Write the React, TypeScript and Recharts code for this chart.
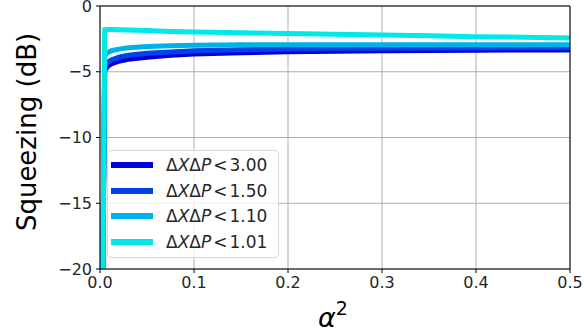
import React from 'react';
import {
  CartesianGrid,
  Label,
  Line,
  LineChart,
  ReferenceLine,
  XAxis,
  YAxis,
} from 'recharts';

const alphaSq = [0.003, 0.005, 0.008, 0.012, 0.02, 0.03, 0.05, 0.075, 0.1, 0.15, 0.2, 0.25, 0.3, 0.35, 0.4, 0.45, 0.5];
const sq300 = [-20, -4.9, -4.6, -4.4, -4.2, -4.05, -3.9, -3.75, -3.65, -3.55, -3.48, -3.44, -3.4, -3.38, -3.36, -3.35, -3.34];
const sq150 = [-20, -4.6, -4.3, -4.1, -3.9, -3.75, -3.6, -3.5, -3.4, -3.32, -3.27, -3.24, -3.22, -3.2, -3.19, -3.18, -3.17];
const sq110 = [-20, -3.8, -3.55, -3.4, -3.28, -3.18, -3.08, -3.02, -2.98, -2.95, -2.94, -2.94, -2.94, -2.94, -2.94, -2.95, -2.95];
const sq101 = [-20, -1.8, -1.78, -1.78, -1.8, -1.82, -1.87, -1.93, -1.98, -2.04, -2.1, -2.15, -2.2, -2.27, -2.33, -2.38, -2.43];

const xTicks = [0, 0.1, 0.2, 0.3, 0.4, 0.5];
const yTicks = [0, -5, -10, -15, -20];

const series = [
  { key: 'sq300', label: '3.00', values: sq300, color: '#0000dd' },
  { key: 'sq150', label: '1.50', values: sq150, color: '#0044e8' },
  { key: 'sq110', label: '1.10', values: sq110, color: '#00b0e8' },
  { key: 'sq101', label: '1.01', values: sq101, color: '#00e8e8' },
];

const data = alphaSq.map((x, i) => {
  const row: Record<string, number> = { x };
  series.forEach((s) => {
    row[s.key] = s.values[i];
  });
  return row;
});

const font = 'DejaVu Sans, sans-serif';
const fmt = (v: number) => String(v).replace('-', '\u2212');
const fmtX = (v: number) => v.toFixed(1);
const tickStyle = { fontFamily: font, fontSize: 16, fill: '#262626' };

function LegendBox() {
  return (
    <div
      style={{
        position: 'absolute',
        left: 107,
        top: 150,
        width: 172,
        height: 108,
        border: '1px solid #d8d8d8',
        borderRadius: 4,
        background: 'rgba(255,255,255,0.8)',
        fontFamily: font,
        fontSize: 17,
        color: '#262626',
        boxSizing: 'border-box',
        paddingTop: 1,
      }}
    >
      {series.map((s) => (
        <div key={s.key} style={{ display: 'flex', alignItems: 'center', height: 25.8 }}>
          <div style={{ width: 42, height: 6, background: s.color, marginLeft: 3, marginRight: 13 }} />
          <span style={{ whiteSpace: 'nowrap' }}>
            Δ<i>X</i>Δ<i>P</i>
            <span style={{ margin: '0 2px' }}>&lt;</span>
            {s.label}
          </span>
        </div>
      ))}
    </div>
  );
}

export default function App() {
  return (
    <div style={{ position: 'absolute', left: 0, top: 0, width: 584, height: 334, background: '#fff' }}>
      <LineChart width={584} height={334} data={data} margin={{ top: 6, right: 14, left: 0, bottom: 0 }}>
        <CartesianGrid stroke="#b0b0b0" strokeWidth={1} />
        <XAxis
          dataKey="x"
          type="number"
          domain={[0, 0.5]}
          ticks={xTicks}
          interval={0}
          tickFormatter={fmtX}
          height={65}
          stroke="#000"
          tickSize={4}
          tickMargin={4}
          tick={tickStyle}
        >
          <Label
            content={() => (
              <text x={333} y={327} textAnchor="middle" fontFamily={font} fontSize={27} fill="#000">
                <tspan fontStyle="italic">α</tspan>
                <tspan dy={-12} fontSize={19}>2</tspan>
              </text>
            )}
          />
        </XAxis>
        <YAxis
          type="number"
          domain={[-20, 0]}
          ticks={yTicks}
          interval={0}
          tickFormatter={fmt}
          width={100}
          allowDataOverflow
          stroke="#000"
          tickSize={4}
          tickMargin={4}
          tick={tickStyle}
        >
          <Label
            content={() => (
              <text
                x={27}
                y={132}
                textAnchor="middle"
                dominantBaseline="central"
                transform="rotate(-90 27 132)"
                fontFamily={font}
                fontSize={26}
                fill="#000"
              >
                Squeezing (dB)
              </text>
            )}
          />
        </YAxis>
        {series.map((s) => (
          <Line
            key={s.key}
            dataKey={s.key}
            type="linear"
            stroke={s.color}
            strokeWidth={5}
            dot={false}
            isAnimationActive={false}
          />
        ))}
        <ReferenceLine y={0} stroke="#000" strokeWidth={1} ifOverflow="visible" />
        <ReferenceLine x={0.5} stroke="#000" strokeWidth={1} ifOverflow="visible" />
      </LineChart>
      <LegendBox />
    </div>
  );
}
